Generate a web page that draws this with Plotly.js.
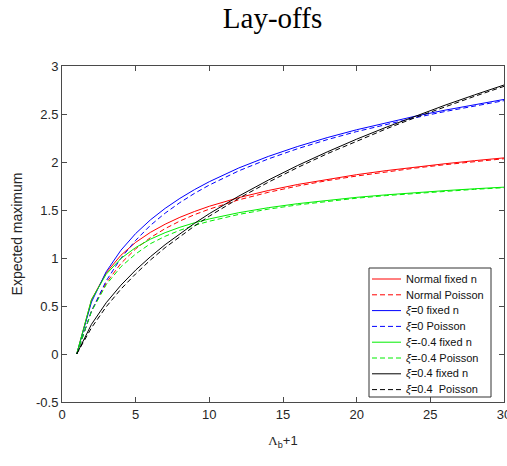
<!DOCTYPE html>
<html>
<head>
<meta charset="utf-8">
<script src="https://cdn.plot.ly/plotly-3.0.1.min.js"></script>
<style>html,body{margin:0;padding:0;background:#fff;}#chart{width:507px;height:466px;}</style>
</head>
<body>
<div id="chart"></div>
<script>
// x = Lambda_b + 1
var xVals = [1,2,3,4,5,6,7,8,9,10,12,14,16,18,20,22,24,26,28,30];

var normalFixed   = [0,0.564,0.846,1.029,1.163,1.267,1.352,1.424,1.485,1.539,1.629,1.703,1.766,1.820,1.868,1.910,1.948,1.982,2.014,2.043];
var normalPoisson = [0,0.448,0.740,0.944,1.095,1.212,1.306,1.385,1.452,1.509,1.606,1.684,1.750,1.806,1.854,1.898,1.937,1.972,2.004,2.034];
var xi0Fixed      = [0,0.541,0.857,1.081,1.255,1.397,1.517,1.621,1.713,1.795,1.938,2.058,2.162,2.254,2.336,2.410,2.478,2.540,2.598,2.652];
var xi0Poisson    = [0,0.447,0.762,0.998,1.184,1.340,1.467,1.577,1.674,1.760,1.908,2.032,2.139,2.233,2.317,2.393,2.462,2.526,2.585,2.639];
var xiNegFixed    = [0,0.566,0.831,0.995,1.109,1.196,1.264,1.320,1.367,1.407,1.472,1.524,1.566,1.602,1.632,1.658,1.682,1.702,1.721,1.738];
var xiNegPoisson  = [0,0.443,0.722,0.909,1.042,1.149,1.226,1.289,1.340,1.383,1.454,1.509,1.553,1.591,1.623,1.650,1.674,1.695,1.715,1.732];
var xiPosFixed    = [0,0.309,0.534,0.717,0.874,1.013,1.139,1.254,1.362,1.462,1.645,1.811,1.964,2.105,2.238,2.362,2.480,2.592,2.699,2.802];
var xiPosPoisson  = [0,0.273,0.492,0.676,0.835,0.979,1.108,1.225,1.334,1.436,1.622,1.789,1.943,2.086,2.219,2.345,2.464,2.576,2.684,2.788];

var xTicks = [0,5,10,15,20,25,30];
var yTicks = [-0.5,0,0.5,1,1.5,2,2.5,3];
var yTickText = ['-0.5','0','0.5','1','1.5','2','2.5','3'];

var seriesNames = ['Normal fixed n','Normal Poisson','<i>ξ</i>=0 fixed n','<i>ξ</i>=0 Poisson',
                   '<i>ξ</i>=-0.4 fixed n','<i>ξ</i>=-0.4 Poisson','<i>ξ</i>=0.4 fixed n','<i>ξ</i>=0.4\u00a0 Poisson'];
var seriesData = [normalFixed, normalPoisson, xi0Fixed, xi0Poisson, xiNegFixed, xiNegPoisson, xiPosFixed, xiPosPoisson];
var colors = ['#ff0000','#ff0000','#0000ff','#0000ff','#00ee00','#00ee00','#000000','#000000'];
var DASH = '5px,3px';
var dashes = ['solid',DASH,'solid',DASH,'solid',DASH,'solid',DASH];

var traces = seriesData.map(function(d, i){
  return {x: xVals, y: d, type: 'scatter', mode: 'lines', name: seriesNames[i], showlegend: false,
          line: {color: colors[i], width: 1, dash: dashes[i]}};
});

// plot area in pixels (for legend box placement)
var PL = 62, PR = 504, PT = 66, PB = 402;
function px(x){ return (x - PL) / (PR - PL); }
function py(y){ return (PB - y) / (PB - PT); }

var shapes = [{type: 'rect', xref: 'paper', yref: 'paper', x0: px(369), x1: px(491), y0: py(397), y1: py(268),
               line: {color: '#333', width: 1}, fillcolor: '#fff', layer: 'above'}];
var annotations = [];
var legY0 = 279, legStep = 15.8;
seriesNames.forEach(function(nm, i){
  var yc = legY0 + i * legStep;
  shapes.push({type: 'line', xref: 'paper', yref: 'paper', x0: px(372), x1: px(401), y0: py(yc), y1: py(yc),
               line: {color: colors[i], width: 1, dash: dashes[i]}, layer: 'above'});
  annotations.push({xref: 'paper', yref: 'paper', x: px(405), y: py(yc), xanchor: 'left', yanchor: 'middle',
                    text: nm, showarrow: false, borderpad: 0,
                    font: {family: 'Liberation Sans, Arial, sans-serif', size: 11, color: '#111'}});
});

var axisCommon = {showgrid: false, zeroline: false, showline: true, mirror: 'ticks',
  linecolor: '#4a4a4a', linewidth: 1, ticks: 'inside', ticklen: 5, tickcolor: '#4a4a4a',
  tickfont: {family: 'Liberation Sans, Arial, sans-serif', size: 13, color: '#262626'}};

var layout = {
  width: 507, height: 466,
  margin: {l: 62, r: 3, t: 66, b: 64},
  paper_bgcolor: '#fff', plot_bgcolor: '#fff',
  showlegend: false,
  title: {text: 'Lay-offs', xref: 'container', yref: 'container', x: 0.5375, xanchor: 'center', y: 0.962, yanchor: 'middle',
          font: {family: 'Liberation Serif, DejaVu Serif, serif', size: 29, color: '#000'}},
  xaxis: Object.assign({}, axisCommon, {range: [0, 30], tickvals: xTicks,
          ticklabeloverflow: 'allow',
          title: {text: '<span style="font-family:Liberation Serif">Λ</span><sub>b</sub>+1', standoff: 15,
                  font: {family: 'Liberation Sans, Arial, sans-serif', size: 13, color: '#262626'}}}),
  yaxis: Object.assign({}, axisCommon, {range: [-0.5, 3], tickvals: yTicks, ticktext: yTickText,
          title: {text: 'Expected maximum', standoff: 10,
                  font: {family: 'Liberation Sans, Arial, sans-serif', size: 14, color: '#262626'}}}),
  shapes: shapes,
  annotations: annotations
};

Plotly.newPlot('chart', traces, layout, {displayModeBar: false, staticPlot: true});
</script>
</body>
</html>
